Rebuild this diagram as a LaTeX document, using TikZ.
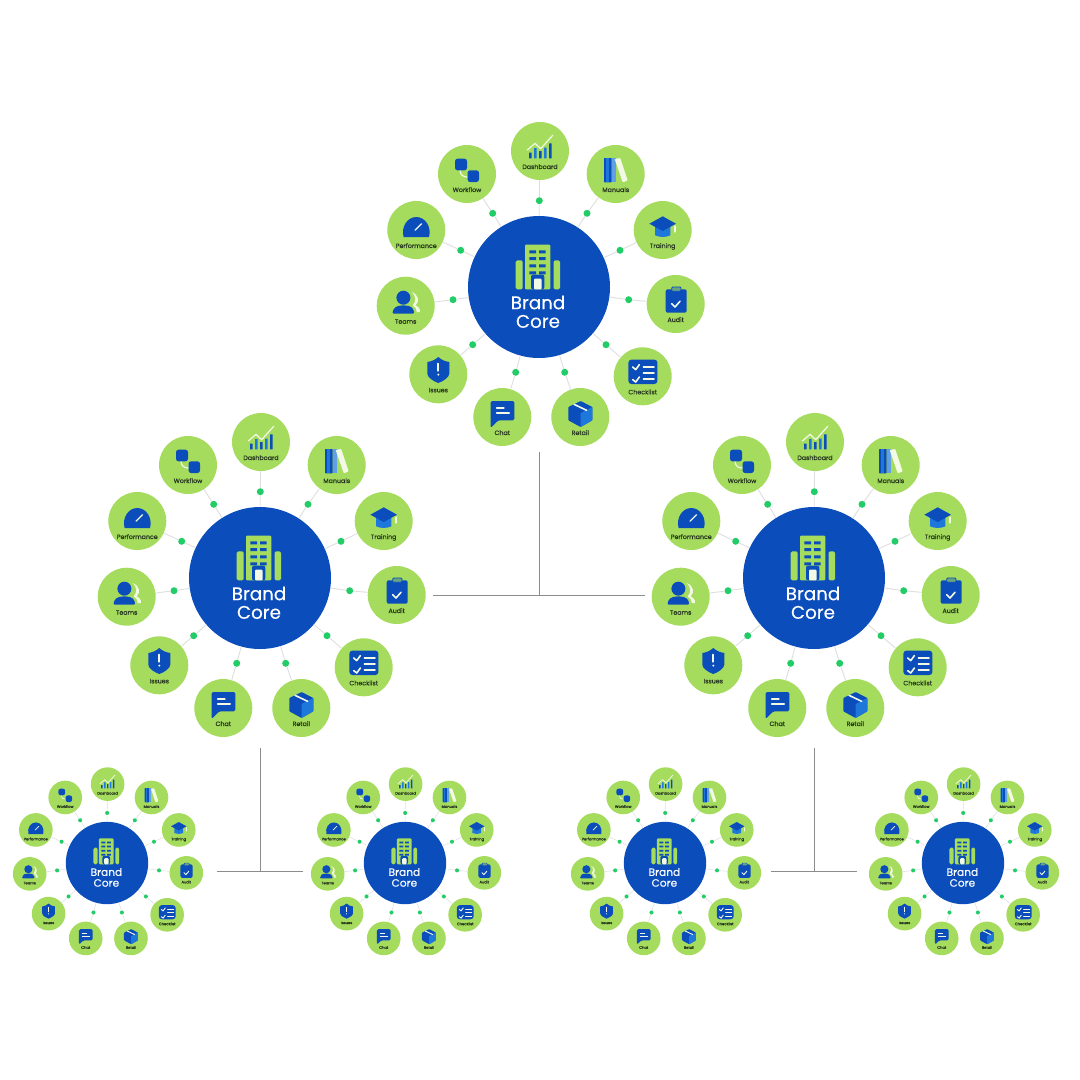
\documentclass[tikz,border=0pt]{standalone}
\usepackage{fontspec}
\setmainfont{Poppins}
\newfontfamily\hubfont[FakeBold=0.25]{Poppins}
\newfontfamily\labelfont[FakeBold=0.3]{Poppins}
\definecolor{hubblue}{HTML}{0A4DBB}
\definecolor{midblue}{HTML}{1E78DC}
\definecolor{satgreen}{HTML}{A6DC5E}
\definecolor{dotgreen}{HTML}{22CC66}
\definecolor{palewhite}{HTML}{F2FAE6}
\definecolor{labeldark}{HTML}{25351F}
\tikzset{
hub/.style={circle,fill=hubblue,inner sep=0pt,minimum size=142pt,transform shape},
hubtext/.style={text=white,align=center,inner sep=0pt,font=\hubfont\fontsize{18.3}{18.6}\selectfont,transform shape},
sat/.style={circle,fill=satgreen,inner sep=0pt,minimum size=58pt,transform shape},
satlabel/.style={anchor=base,inner sep=0pt,text=labeldark,font=\labelfont\fontsize{6.3}{7}\selectfont,transform shape},
satdot/.style={circle,fill=dotgreen,inner sep=0pt,minimum size=7pt,transform shape},
spoke/.style={draw=black!13,line width=0.9pt*\cs},
trunk/.style={draw=black!45,line width=0.7pt},
glyphline/.style={draw=palewhite,line width=1.2pt*\cs,line cap=round,line join=round}
}
% icons, drawn around the centre of their circle
\newcommand{\glyphDashboard}{
\fill[hubblue] (-11,1.7) rectangle (-8.5,7.3) (-1,0) rectangle (1.5,7.3) (9,-7.7) rectangle (11.5,7.3);
\fill[midblue] (-6,-3) rectangle (-3.5,7.3) (4,-3.5) rectangle (6.5,7.3);
\draw[glyphline] (-12.7,-1) -- (-5,-7.7) -- (0.7,-2.3) -- (12.7,-15.7);
}
\newcommand{\glyphManuals}{
\fill[hubblue,rounded corners=0.6pt] (-11.7,-16) rectangle (-4,8.3);
\fill[midblue] (-9.3,-16) rectangle (-7,8.3);
\fill[midblue!70!white] (-4,-16) rectangle (0,8.3);
\fill[palewhite,rounded corners=0.8pt] (-1,-15) -- (4.5,-16) -- (12,6.5) -- (7,8.3) -- cycle;
}
\newcommand{\glyphTraining}{
\fill[midblue] (-7.7,-3) -- (-7.7,5.3) .. controls (-3,7.5) and (3,7.5) .. (7.7,5.3) -- (7.7,-3) -- cycle;
\fill[hubblue] (-13.3,-6.3) -- (0,-13.7) -- (13.3,-6.3) -- (0,1) -- cycle;
\draw[glyphline] (12.3,-4) -- (12.3,2);
}
\newcommand{\glyphAudit}{
\fill[hubblue,rounded corners=2pt] (-10,-14.7) rectangle (11,8.7);
\draw[hubblue,fill=satgreen!60!hubblue,line width=0.8pt*\cs,rounded corners=1pt] (-4,-17) rectangle (5.3,-12.7);
\draw[glyphline,line width=1.6pt*\cs] (-4,-0.3) -- (-0.7,3) -- (4.3,-2.7);
}
\newcommand{\glyphChecklist}{
\fill[hubblue,rounded corners=3pt] (-14.3,-16.7) rectangle (14.7,7.7);
\draw[glyphline,line width=1.6pt*\cs] (-10,-9.3) -- (-7,-6.7) -- (-3.3,-11.7) (-10,3.3) -- (-7,5.7) -- (-3.3,0.7);
\draw[glyphline,line width=1.6pt*\cs] (0.7,-9.3) -- (11.3,-9.3) (0.7,-3.3) -- (11.3,-3.3) (0.7,2.7) -- (11.3,2.7);
}
\newcommand{\glyphRetail}{
\fill[hubblue,rounded corners=0.8pt] (-12,-10) -- (0.3,-16) -- (12,-10) -- (12,3.3) -- (0.3,10) -- (-12,3.3) -- cycle;
\fill[midblue] (0.3,-4) -- (12,-10) -- (12,3.3) -- (0.3,10) -- cycle;
\draw[glyphline,line width=1.6pt*\cs] (-6.3,-12.7) -- (6.3,-6.7);
}
\newcommand{\glyphChat}{
\fill[hubblue,rounded corners=1.5pt] (-11.7,11) -- (-11.7,-16) -- (12,-16) -- (12,3.3) -- (-4,3.3) -- cycle;
\draw[glyphline] (-5.7,-9) -- (1.7,-9) (-5.7,-4) -- (7,-4);
}
\newcommand{\glyphIssues}{
\fill[hubblue] (0,-17.3) .. controls (3,-14.5) and (7,-12.8) .. (11,-12.3) -- (11,-0.7) .. controls (11,3) and (5,7) .. (0,8.7) .. controls (-5,7) and (-11,3) .. (-11,-0.7) -- (-11,-12.3) .. controls (-7,-12.8) and (-3,-14.5) .. (0,-17.3) -- cycle;
\draw[glyphline,line width=1.8pt*\cs] (0,-10.7) -- (0,-3.5);
\fill[palewhite] (0,0.3) circle (1.1);
}
\newcommand{\glyphTeams}{
\fill[palewhite] (6,-13.7) .. controls (13,-11) and (14,-4) .. (10,-0.5) .. controls (13,1) and (14.5,3) .. (14.2,6.5) -- (11,6.5) .. controls (11,3) and (9,0.5) .. (7,-0.3) .. controls (10.5,-4) and (10.5,-10) .. (6,-13.7) -- cycle;
\fill[hubblue] (-2.3,-8) circle (7);
\fill[hubblue,rounded corners=1pt] (-13,8) .. controls (-13,3) and (-10,-0.3) .. (-2.3,-0.3) .. controls (5.5,-0.3) and (8.3,3) .. (8.3,8) -- cycle;
}
\newcommand{\glyphPerformance}{
\fill[hubblue] (-12.7,7) .. controls (-15.5,-3) and (-9,-13) .. (0,-13) .. controls (9,-13) and (15.5,-3) .. (12.7,7) -- cycle;
\draw[glyphline] (-1.3,0.3) -- (5.3,-6.3);
}
\newcommand{\glyphWorkflow}{
\draw[glyphline] (-7,-3.7) .. controls (-7,1) and (-3.5,3) .. (0.3,3);
\fill[hubblue,rounded corners=2.5pt] (-12,-15.3) rectangle (0,-3.7);
\fill[hubblue,rounded corners=2.5pt] (0.6,-3.7) rectangle (12,8);
}
\tikzset{
satglyph/.pic={\csname glyph#1\endcsname},
brandcluster/.pic={
\def\cs{#1}
\begin{scope}[scale=#1]
\node[hub] (-hub) at (0,0) {};
% building
\fill[satgreen,rounded corners=1pt] (-14,2.3) -- (-14,-42.3) -- (11.3,-42.3) -- (11.3,2.3) -- cycle;
\fill[satgreen,rounded corners=1.5pt] (-23.3,2.3) -- (-23.3,-26.7) -- (-16.3,-26.7) -- (-16.3,2.3) -- cycle;
\fill[satgreen,rounded corners=1.5pt] (14.5,2.3) -- (14.5,-26.7) -- (21,-26.7) -- (21,2.3) -- cycle;
\foreach \wy in {-36.7,-30,-22.7,-15.7}
  \fill[hubblue] (-9.7,\wy) rectangle ++(6.7,3) (0,\wy) rectangle ++(6.7,3);
\fill[hubblue,rounded corners=2pt] (-8,2.3) -- (-8,-12.3) -- (5.3,-12.3) -- (5.3,2.3) -- cycle;
\fill[palewhite,rounded corners=1pt] (-5,2.3) -- (-5,-8.3) -- (2.7,-8.3) -- (2.7,2.3) -- cycle;
\node[hubtext] (-core) at (-1,24.8) {Brand\\Core};
\foreach \sat/\sx/\sy/\dotx/\doty in {
  Dashboard/1/-136/0.3/-86.3, Manuals/76.7/-113/48/-73.7, Training/123.7/-57/81/-36.7,
  Audit/136.7/17/89.7/12.7, Checklist/103.7/89.3/67/57.7, Retail/41.3/130/25.7/85.3,
  Chat/-36.7/130/-23.3/85.3, Issues/-100.7/87.3/-66.3/57.7, Teams/-133.3/18.7/-86/12.7,
  Performance/-122.7/-57/-78.3/-36.7, Workflow/-72/-113/-46.3/-73.7}{
  \node[sat] (-\sat) at (\sx,\sy) {};
  \node[satlabel] (-\sat-label) at (\sx,\sy+18) {\sat};
  \node[satdot] (-\sat-dot) at (\dotx,\doty) {};
  \draw[spoke] (-hub) -- (-\sat-dot);
  \draw[spoke] (-\sat-dot) -- (-\sat);
  \pic[transform shape] at (\sx,\sy) {satglyph=\sat};
}
\end{scope}
}
}
\begin{document}
\begin{tikzpicture}[x=1pt,y=-1pt]
\useasboundingbox (0,0) rectangle (1080,1080);
\foreach \cl/\cx/\cy/\cscale in {top/539/287/1,left/260/578/1,right/814/578/1,
  lla/107/863/0.58,llb/405/863/0.58,rra/665/863/0.58,rrb/963/863/0.58}
  \pic (\cl) at (\cx,\cy) {brandcluster=\cscale};
% trunks
\coordinate (topstem) at (539,452);
\coordinate (topbarl) at (433,595);
\coordinate (topbarr) at (645,595);
\coordinate (leftstem) at (260,748);
\coordinate (leftbarl) at (217,871);
\coordinate (leftbarr) at (303,871);
\coordinate (rightstem) at (814,748);
\coordinate (rightbarl) at (771,871);
\coordinate (rightbarr) at (857,871);
\draw[trunk] (topbarl) -- (topbarr);
\draw[trunk] (topstem) -- (topstem |- topbarl);
\draw[trunk] (leftbarl) -- (leftbarr);
\draw[trunk] (leftstem) -- (leftstem |- leftbarl);
\draw[trunk] (rightbarl) -- (rightbarr);
\draw[trunk] (rightstem) -- (rightstem |- rightbarl);
\end{tikzpicture}
\end{document}
